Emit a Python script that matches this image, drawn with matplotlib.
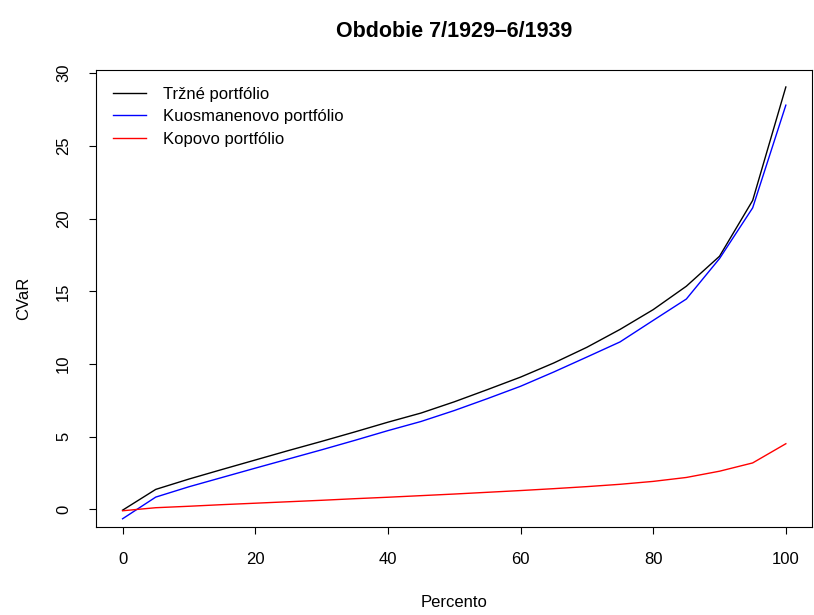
import matplotlib
matplotlib.use("Agg")
import matplotlib.pyplot as plt

plt.rcParams['font.family'] = ['Liberation Sans', 'DejaVu Sans']

# Percentile grid and CVaR values
percento = [0, 5, 10, 15, 20, 25, 30, 35, 40, 45, 50,
            55, 60, 65, 70, 75, 80, 85, 90, 95, 100]
trzne = [-0.05, 1.38, 2.09, 2.75, 3.40, 4.05, 4.68, 5.33, 6.00, 6.63, 7.40,
         8.24, 9.10, 10.07, 11.15, 12.38, 13.74, 15.35, 17.41, 21.25, 29.05]
kuosmanen = [-0.64, 0.85, 1.56, 2.20, 2.84, 3.47, 4.10, 4.75, 5.42, 6.05, 6.80,
             7.62, 8.47, 9.45, 10.48, 11.52, 13.00, 14.47, 17.25, 20.74, 27.80]
kopa = [-0.09, 0.12, 0.22, 0.33, 0.43, 0.53, 0.63, 0.74, 0.84, 0.95, 1.06,
        1.18, 1.30, 1.43, 1.57, 1.73, 1.93, 2.20, 2.63, 3.20, 4.52]

labels = ['Tržné portfólio', 'Kuosmanenovo portfólio', 'Kopovo portfólio']
colors = ['black', 'blue', 'red']

fig = plt.figure(figsize=(8.14, 6.15), dpi=100)
ax = fig.add_axes([0.118, 0.143, 0.880, 0.743])

for vals, lab, col in zip([trzne, kuosmanen, kopa], labels, colors):
    ax.plot(percento, vals, color=col, lw=1.0, label=lab)

# R-style 4% range padding
ax.set_xlim(-4, 104)
ax.set_ylim(-1.21, 30.21)
ax.set_xticks([0, 20, 40, 60, 80, 100])
ax.set_yticks([0, 5, 10, 15, 20, 25, 30])

ax.tick_params(axis='both', direction='out', length=5, width=0.8, labelsize=12, pad=13)
for lbl in ax.get_yticklabels():
    lbl.set_rotation(90)
    lbl.set_va('center')
for s in ax.spines.values():
    s.set_linewidth(0.8)

ax.set_xlabel('Percento', fontsize=12, labelpad=20)
ax.set_ylabel('CVaR', fontsize=12, labelpad=18)
ax.set_title('Obdobie 7/1929–6/1939', fontsize=15.5, fontweight='bold', pad=24)

ax.legend(loc='upper left', frameon=False, fontsize=12, handlelength=2.0,
          handletextpad=1.0, labelspacing=0.45, borderaxespad=0.6)

fig.savefig('out.png', dpi=100)
